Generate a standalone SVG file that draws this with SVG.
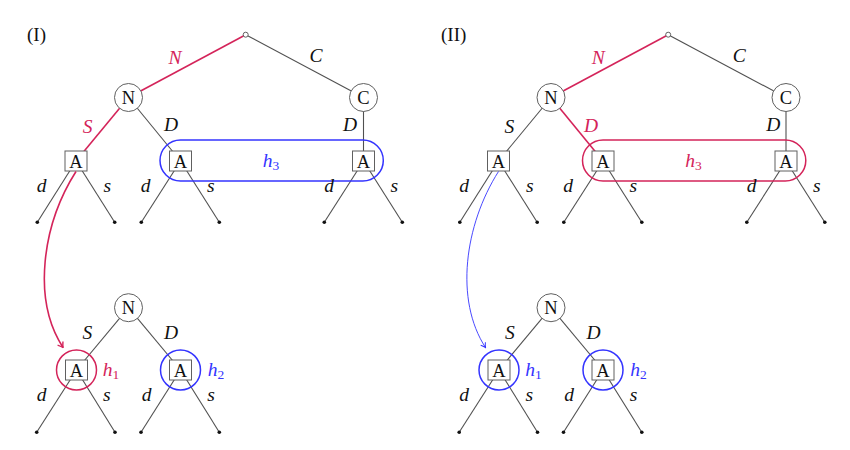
<svg xmlns="http://www.w3.org/2000/svg" width="850" height="450" viewBox="0 0 850 450">
<style>
.e{stroke:#505050;stroke-width:1.1;fill:none}
.er{stroke:#d4245a;stroke-width:1.6;fill:none}
.nc{fill:#fff;stroke:#606060;stroke-width:1}
.bx{fill:#fff;stroke:#606060;stroke-width:1}
.leaf{fill:#111}
.nt{font-family:"Liberation Serif",serif;font-size:18.5px;text-anchor:middle;fill:#111}
.lb{font-family:"Liberation Serif",serif;font-size:19.5px;font-style:italic;text-anchor:middle;fill:#111}
.red{fill:#d4245a}
.blue{fill:#3434ff}
.sub{font-style:normal;font-size:13.5px}
.ttl{font-family:"Liberation Serif",serif;font-size:19px;fill:#111}
</style>
<defs>
<marker id="arR" viewBox="-6 -4 7 8" refX="0" refY="0" markerWidth="7" markerHeight="8" markerUnits="userSpaceOnUse" orient="auto">
<path d="M-5,-3.2 Q-1.5,-0.6 0,0 Q-1.5,0.6 -5,3.2" fill="none" stroke="#d4245a" stroke-width="1.4"/>
</marker>
<marker id="arB" viewBox="-6 -4 7 8" refX="0" refY="0" markerWidth="7" markerHeight="8" markerUnits="userSpaceOnUse" orient="auto">
<path d="M-4.5,-2.8 Q-1.5,-0.5 0,0 Q-1.5,0.5 -4.5,2.8" fill="none" stroke="#3434ff" stroke-width="1"/>
</marker>
</defs>

<!-- ================= PANEL I ================= -->
<text class="ttl" x="27" y="41">(I)</text>
<g id="connectors-I">
<line class="er" x1="245.7" y1="34.7" x2="128.5" y2="97.5"/>
<line class="e" x1="245.7" y1="34.7" x2="363.5" y2="97.5"/>
<line class="er" x1="128.5" y1="97.5" x2="76" y2="161"/>
<line class="e" x1="128.5" y1="97.5" x2="180.5" y2="161"/>
<line class="e" x1="363.5" y1="97.5" x2="363.5" y2="161"/>
<line class="e" x1="76" y1="161" x2="37.3" y2="222.3"/>
<line class="e" x1="76" y1="161" x2="114.7" y2="222.3"/>
<line class="e" x1="180.5" y1="161" x2="141.3" y2="222.3"/>
<line class="e" x1="180.5" y1="161" x2="219.3" y2="222.3"/>
<line class="e" x1="363.5" y1="161" x2="324.3" y2="222.3"/>
<line class="e" x1="363.5" y1="161" x2="402.3" y2="222.3"/>
<line class="e" x1="128.5" y1="307.7" x2="76.5" y2="370"/>
<line class="e" x1="128.5" y1="307.7" x2="180.5" y2="370"/>
<line class="e" x1="76.5" y1="370" x2="36.7" y2="432.3"/>
<line class="e" x1="76.5" y1="370" x2="115" y2="432.3"/>
<line class="e" x1="180.5" y1="370" x2="141" y2="432.3"/>
<line class="e" x1="180.5" y1="370" x2="219.3" y2="432.3"/>
</g>
<g id="I-root"><circle class="nc" cx="245.7" cy="34.7" r="2.5"/></g>
<g id="I-N"><circle class="nc" cx="128.5" cy="97.5" r="14"/><text class="nt" x="128.5" y="103.8">N</text></g>
<g id="I-C"><circle class="nc" cx="363.5" cy="97.5" r="14"/><text class="nt" x="363.5" y="103.8">C</text></g>
<g id="I-A1"><rect class="bx" x="65" y="151" width="22" height="20"/><text class="nt" x="76" y="167.8">A</text></g>
<g id="I-A2"><rect class="bx" x="169.5" y="151" width="22" height="20"/><text class="nt" x="180.5" y="167.8">A</text></g>
<g id="I-A3"><rect class="bx" x="352.5" y="151" width="22" height="20"/><text class="nt" x="363.5" y="167.8">A</text></g>
<g id="I-leaves">
<circle class="leaf" cx="37.3" cy="222.3" r="1.8"/><circle class="leaf" cx="114.7" cy="222.3" r="1.8"/>
<circle class="leaf" cx="141.3" cy="222.3" r="1.8"/><circle class="leaf" cx="219.3" cy="222.3" r="1.8"/>
<circle class="leaf" cx="324.3" cy="222.3" r="1.8"/><circle class="leaf" cx="402.3" cy="222.3" r="1.8"/>
<circle class="leaf" cx="36.7" cy="432.3" r="1.8"/><circle class="leaf" cx="115" cy="432.3" r="1.8"/>
<circle class="leaf" cx="141" cy="432.3" r="1.8"/><circle class="leaf" cx="219.3" cy="432.3" r="1.8"/>
</g>
<g id="I-h3"><rect x="160" y="140" width="223.3" height="41" rx="20.5" fill="none" stroke="#3434ff" stroke-width="1.5"/>
<text class="lb blue" x="271" y="166.7">h<tspan class="sub" dy="3">3</tspan></text></g>
<g id="I-labels">
<text class="lb red" x="175" y="64.3">N</text>
<text class="lb" x="316" y="61.7">C</text>
<text class="lb red" x="87.7" y="132.7">S</text>
<text class="lb" x="171" y="130.7">D</text>
<text class="lb" x="350" y="130.7">D</text>
<text class="lb" x="41.7" y="191.5">d</text><text class="lb" x="107.3" y="191.5">s</text>
<text class="lb" x="145.7" y="191.5">d</text><text class="lb" x="210.7" y="191.5">s</text>
<text class="lb" x="329" y="191.5">d</text><text class="lb" x="394.3" y="191.5">s</text>
</g>
<g id="I-bN"><circle class="nc" cx="128.5" cy="307.7" r="14"/><text class="nt" x="128.5" y="314">N</text></g>
<g id="I-bA1"><rect class="bx" x="65.5" y="360" width="22" height="20"/><text class="nt" x="76.5" y="376.8">A</text>
<circle cx="76.5" cy="370" r="20" fill="none" stroke="#d4245a" stroke-width="1.5"/>
<text class="lb red" x="111" y="375.7">h<tspan class="sub" dy="3">1</tspan></text></g>
<g id="I-bA2"><rect class="bx" x="169.5" y="360" width="22" height="20"/><text class="nt" x="180.5" y="376.8">A</text>
<circle cx="180.5" cy="370" r="20" fill="none" stroke="#3434ff" stroke-width="1.5"/>
<text class="lb blue" x="216" y="375.7">h<tspan class="sub" dy="3">2</tspan></text></g>
<g id="I-blabels">
<text class="lb" x="87.3" y="339">S</text>
<text class="lb" x="171" y="339">D</text>
<text class="lb" x="41.7" y="400.7">d</text><text class="lb" x="106.7" y="400.7">s</text>
<text class="lb" x="146.7" y="400.7">d</text><text class="lb" x="211" y="400.7">s</text>
</g>
<g id="I-arrow"><path d="M76,171.5 C42,225 32,300 63,347.5" class="er" marker-end="url(#arR)"/></g>

<!-- ================= PANEL II ================= -->
<text class="ttl" x="441" y="41">(II)</text>
<g transform="translate(422.5,0)">
<g id="connectors-II">
<line class="er" x1="245.7" y1="34.7" x2="128.5" y2="97.5"/>
<line class="e" x1="245.7" y1="34.7" x2="363.5" y2="97.5"/>
<line class="e" x1="128.5" y1="97.5" x2="76" y2="161"/>
<line class="er" x1="128.5" y1="97.5" x2="180.5" y2="161"/>
<line class="e" x1="363.5" y1="97.5" x2="363.5" y2="161"/>
<line class="e" x1="76" y1="161" x2="37.3" y2="222.3"/>
<line class="e" x1="76" y1="161" x2="114.7" y2="222.3"/>
<line class="e" x1="180.5" y1="161" x2="141.3" y2="222.3"/>
<line class="e" x1="180.5" y1="161" x2="219.3" y2="222.3"/>
<line class="e" x1="363.5" y1="161" x2="324.3" y2="222.3"/>
<line class="e" x1="363.5" y1="161" x2="402.3" y2="222.3"/>
<line class="e" x1="128.5" y1="307.7" x2="76.5" y2="370"/>
<line class="e" x1="128.5" y1="307.7" x2="180.5" y2="370"/>
<line class="e" x1="76.5" y1="370" x2="36.7" y2="432.3"/>
<line class="e" x1="76.5" y1="370" x2="115" y2="432.3"/>
<line class="e" x1="180.5" y1="370" x2="141" y2="432.3"/>
<line class="e" x1="180.5" y1="370" x2="219.3" y2="432.3"/>
</g>
<g id="II-root"><circle class="nc" cx="245.7" cy="34.7" r="2.5"/></g>
<g id="II-N"><circle class="nc" cx="128.5" cy="97.5" r="14"/><text class="nt" x="128.5" y="103.8">N</text></g>
<g id="II-C"><circle class="nc" cx="363.5" cy="97.5" r="14"/><text class="nt" x="363.5" y="103.8">C</text></g>
<g id="II-A1"><rect class="bx" x="65" y="151" width="22" height="20"/><text class="nt" x="76" y="167.8">A</text></g>
<g id="II-A2"><rect class="bx" x="169.5" y="151" width="22" height="20"/><text class="nt" x="180.5" y="167.8">A</text></g>
<g id="II-A3"><rect class="bx" x="352.5" y="151" width="22" height="20"/><text class="nt" x="363.5" y="167.8">A</text></g>
<g id="II-leaves">
<circle class="leaf" cx="37.3" cy="222.3" r="1.8"/><circle class="leaf" cx="114.7" cy="222.3" r="1.8"/>
<circle class="leaf" cx="141.3" cy="222.3" r="1.8"/><circle class="leaf" cx="219.3" cy="222.3" r="1.8"/>
<circle class="leaf" cx="324.3" cy="222.3" r="1.8"/><circle class="leaf" cx="402.3" cy="222.3" r="1.8"/>
<circle class="leaf" cx="36.7" cy="432.3" r="1.8"/><circle class="leaf" cx="115" cy="432.3" r="1.8"/>
<circle class="leaf" cx="141" cy="432.3" r="1.8"/><circle class="leaf" cx="219.3" cy="432.3" r="1.8"/>
</g>
<g id="II-h3"><rect x="160" y="140" width="223.3" height="41" rx="20.5" fill="none" stroke="#d4245a" stroke-width="1.5"/>
<text class="lb red" x="271" y="166.7">h<tspan class="sub" dy="3">3</tspan></text></g>
<g id="II-labels">
<text class="lb red" x="175.8" y="64.3">N</text>
<text class="lb" x="316.8" y="61.7">C</text>
<text class="lb" x="86.8" y="132.7">S</text>
<text class="lb red" x="168.5" y="131.5">D</text>
<text class="lb" x="350.8" y="130.7">D</text>
<text class="lb" x="41.7" y="191.5">d</text><text class="lb" x="107.3" y="191.5">s</text>
<text class="lb" x="145.7" y="191.5">d</text><text class="lb" x="210.7" y="191.5">s</text>
<text class="lb" x="329" y="191.5">d</text><text class="lb" x="394.3" y="191.5">s</text>
</g>
<g id="II-bN"><circle class="nc" cx="128.5" cy="307.7" r="14"/><text class="nt" x="128.5" y="314">N</text></g>
<g id="II-bA1"><rect class="bx" x="65.5" y="360" width="22" height="20"/><text class="nt" x="76.5" y="376.8">A</text>
<circle cx="76.5" cy="370" r="20" fill="none" stroke="#3434ff" stroke-width="1.5"/>
<text class="lb blue" x="111" y="375.7">h<tspan class="sub" dy="3">1</tspan></text></g>
<g id="II-bA2"><rect class="bx" x="169.5" y="360" width="22" height="20"/><text class="nt" x="180.5" y="376.8">A</text>
<circle cx="180.5" cy="370" r="20" fill="none" stroke="#3434ff" stroke-width="1.5"/>
<text class="lb blue" x="216" y="375.7">h<tspan class="sub" dy="3">2</tspan></text></g>
<g id="II-blabels">
<text class="lb" x="87.3" y="339">S</text>
<text class="lb" x="171" y="339">D</text>
<text class="lb" x="41.7" y="400.7">d</text><text class="lb" x="106.7" y="400.7">s</text>
<text class="lb" x="146.7" y="400.7">d</text><text class="lb" x="211" y="400.7">s</text>
</g>
<g id="II-arrow"><path d="M76,171.5 C42,225 32,300 63,347.5" fill="none" stroke="#3434ff" stroke-width="0.9" marker-end="url(#arB)"/></g>
</g>
</svg>
